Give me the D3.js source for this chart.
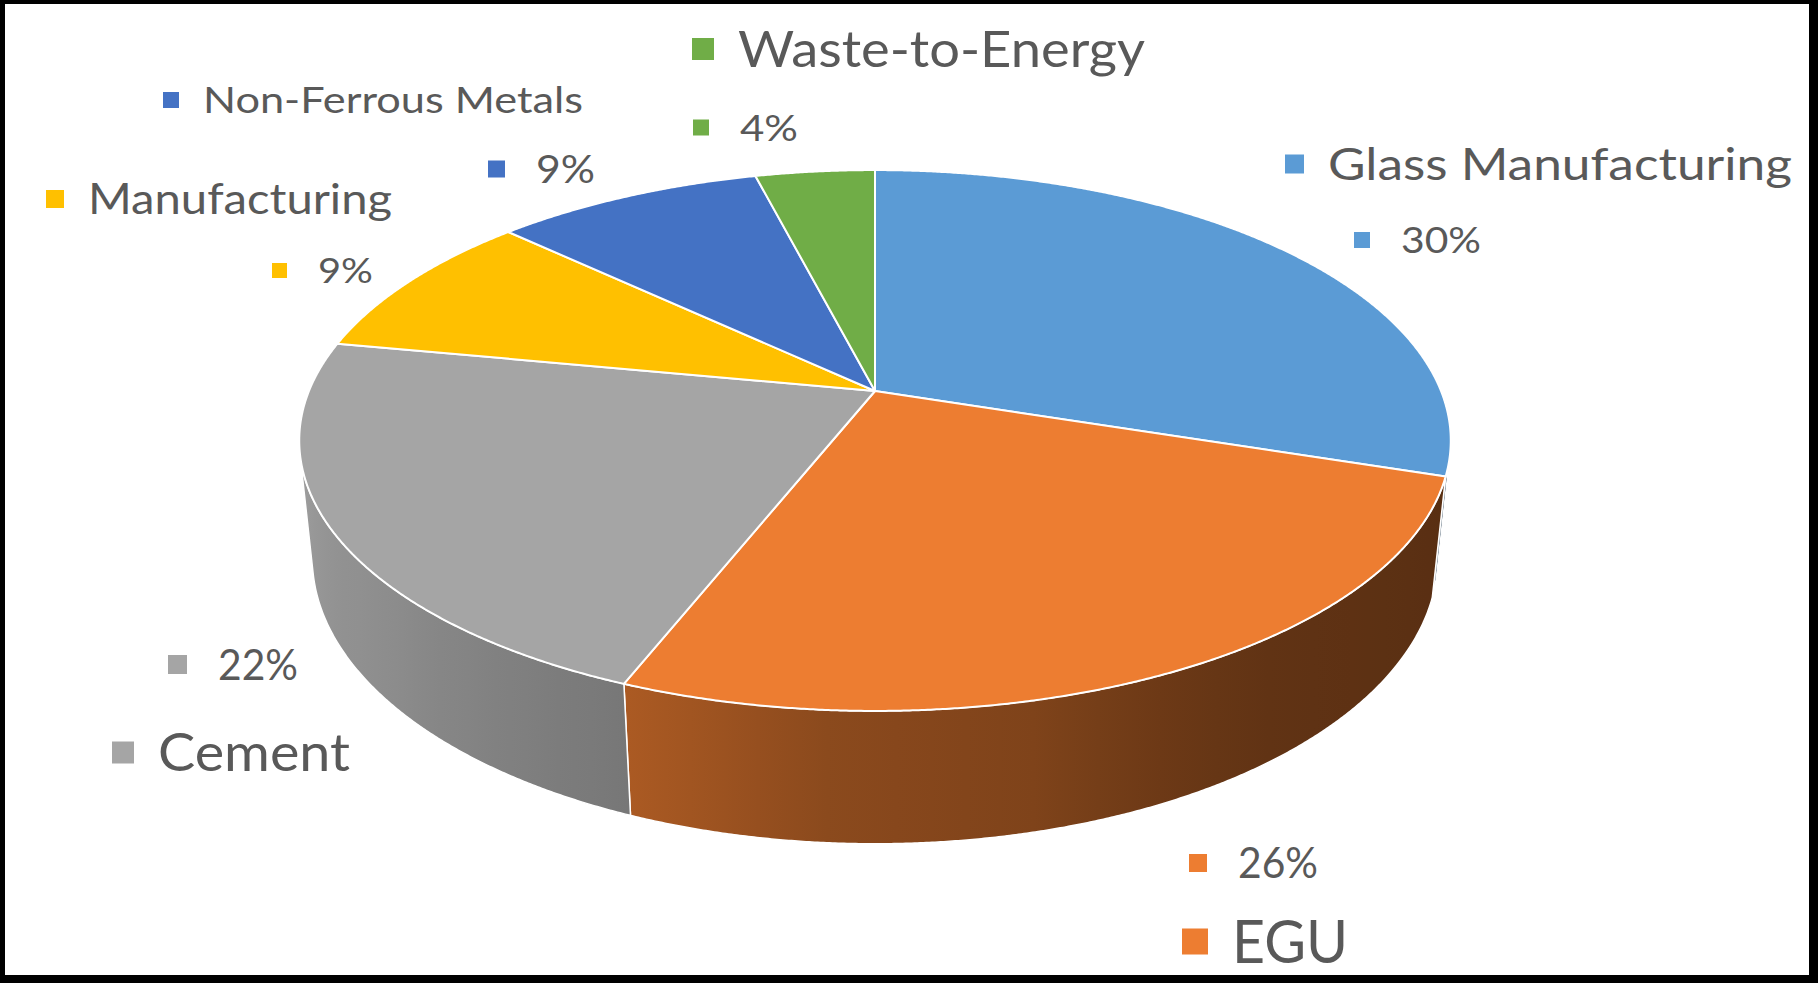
<!DOCTYPE html>
<html>
<head>
<meta charset="utf-8">
<script src="https://cdn.jsdelivr.net/npm/d3@7"></script>
<style>
  html, body { margin: 0; padding: 0; background: #fff; }
  svg { display: block; }
</style>
</head>
<body>
<svg id="chart" width="1818" height="983"></svg>
<script>
// ---- data ----
const categories = ["Glass Manufacturing", "EGU", "Cement", "Manufacturing", "Non-Ferrous Metals", "Waste-to-Energy"];
const shares = [30, 26, 22, 9, 9, 4];
const sliceColors = ["#5b9bd5", "#ed7d31", "#a5a5a5", "#ffc000", "#4472c4", "#70ad47"];

// ---- label placement (text start x, baseline y, cap height, text width) ----
const labelLayout = {
  "Glass Manufacturing": { name: { x: 1328, y: 180, cap: 32, w: 464 }, pct: { x: 1401, y: 253, cap: 26, w: 80 } },
  "EGU":                 { name: { x: 1232, y: 963, cap: 43, w: 116 }, pct: { x: 1238, y: 878, cap: 30, w: 80 } },
  "Cement":              { name: { x: 158,  y: 771, cap: 37, w: 192 }, pct: { x: 218,  y: 680, cap: 31, w: 80 } },
  "Manufacturing":       { name: { x: 88,   y: 214, cap: 30, w: 304 }, pct: { x: 318,  y: 283, cap: 25, w: 55 } },
  "Non-Ferrous Metals":  { name: { x: 203,  y: 113, cap: 26, w: 380 }, pct: { x: 536,  y: 183, cap: 28, w: 59 } },
  "Waste-to-Energy":     { name: { x: 738,  y: 67,  cap: 36, w: 407 }, pct: { x: 740,  y: 141, cap: 27, w: 58 } }
};

const W = 1818, H = 983;
const svg = d3.select("#chart");
const defs = svg.append("defs");

// frame
svg.append("rect").attr("width", W).attr("height", H).attr("fill", "#000");
svg.append("rect").attr("x", 5).attr("y", 4).attr("width", W - 5 - 9).attr("height", H - 4 - 8).attr("fill", "#fff");

// ---- perspective camera for a unit-radius disc ----
const tilt = 27.5 * Math.PI / 180;
const sT = Math.sin(tilt), cT = Math.cos(tilt);
const camDist = 4.846, focal = 2743;
const cx = 875, cy = 391;
const thickness = 0.2365;

function project(angle, z) {
  const x = Math.sin(angle), y = Math.cos(angle);
  const depth = y * cT - z * sT + camDist;
  const up = y * sT + z * cT;
  return [cx + focal * x / depth, cy - focal * up / depth];
}

const color = d3.scaleOrdinal().domain(categories).range(sliceColors);
const pie = d3.pie().sort(null).value(d => d.value);
const arcs = pie(categories.map((c, i) => ({ name: c, value: shares[i] })));

// side wall visible where its outward normal faces the camera
const visHalf = Math.acos(-1 / (camDist * cT));
const visLo = visHalf, visHi = 2 * Math.PI - visHalf;

// side shading by angle (degrees, clockwise from the back)
const shadeScale = d3.scaleLinear()
  .domain([100, 118, 145, 157, 167, 183, 201, 230, 260])
  .range([0.37, 0.38, 0.41, 0.47, 0.54, 0.58, 0.72, 0.85, 0.95])
  .clamp(true);
function shaded(base, angle) {
  const c = d3.rgb(base), k = shadeScale(angle * 180 / Math.PI);
  return d3.rgb(c.r * k, c.g * k, c.b * k).formatHex();
}

const step = Math.PI / 720;
function arcPoints(a0, a1, z) {
  const n = Math.max(2, Math.ceil(Math.abs(a1 - a0) / step));
  return d3.range(n + 1).map(i => project(a0 + (a1 - a0) * i / n, z));
}
const line = d3.line();

// ---- side walls ----
const sides = svg.append("g");
arcs.forEach((d, i) => {
  const lo = Math.max(d.startAngle, visLo), hi = Math.min(d.endAngle, visHi);
  if (hi <= lo) return;
  const gid = "side" + i;
  const x1 = project(lo, -thickness / 2)[0], x2 = project(hi, -thickness / 2)[0];
  const grad = defs.append("linearGradient").attr("id", gid)
    .attr("gradientUnits", "userSpaceOnUse")
    .attr("x1", x1).attr("y1", 0).attr("x2", x2).attr("y2", 0);
  const ns = 16;
  d3.range(ns + 1).forEach(j => {
    const a = lo + (hi - lo) * j / ns;
    const px = project(a, -thickness / 2)[0];
    grad.append("stop")
      .attr("offset", Math.abs(x2 - x1) < 1e-6 ? 0 : (px - x1) / (x2 - x1))
      .attr("stop-color", shaded(color(d.data.name), a));
  });
  const pts = arcPoints(lo, hi, 0).concat(arcPoints(hi, lo, -thickness));
  sides.append("path")
    .attr("d", line(pts) + "Z")
    .attr("fill", `url(#${gid})`)
    .attr("stroke", "#fff")
    .attr("stroke-width", 1.5)
    .attr("stroke-linejoin", "round");
});

// ---- top faces ----
const tops = svg.append("g");
arcs.forEach(d => {
  const pts = [[cx, cy]].concat(arcPoints(d.startAngle, d.endAngle, 0));
  tops.append("path")
    .attr("d", line(pts) + "Z")
    .attr("fill", color(d.data.name))
    .attr("stroke", "#fff")
    .attr("stroke-width", 2)
    .attr("stroke-linejoin", "round");
});

// ---- data labels: category name and percentage, each with a colour key ----
const labels = svg.append("g").attr("font-family", "Lato, 'Open Sans', sans-serif").attr("fill", "#595959");
function addLabel(spec, text, fill, gap) {
  const size = spec.cap / 0.717;
  const sq = Math.round(spec.cap * 0.6);
  labels.append("rect")
    .attr("x", spec.x - gap - sq)
    .attr("y", spec.y - spec.cap / 2 - sq / 2)
    .attr("width", sq).attr("height", sq)
    .attr("fill", fill);
  labels.append("text")
    .attr("x", spec.x).attr("y", spec.y)
    .attr("font-size", size)
    .attr("textLength", spec.w)
    .attr("lengthAdjust", "spacingAndGlyphs")
    .text(text);
}
arcs.forEach(d => {
  const spot = labelLayout[d.data.name];
  const fill = color(d.data.name);
  addLabel(spot.name, d.data.name, fill, 24);
  addLabel(spot.pct, d3.format(".0f")(d.data.value) + "%", fill, 31);
});
</script>
</body>
</html>
